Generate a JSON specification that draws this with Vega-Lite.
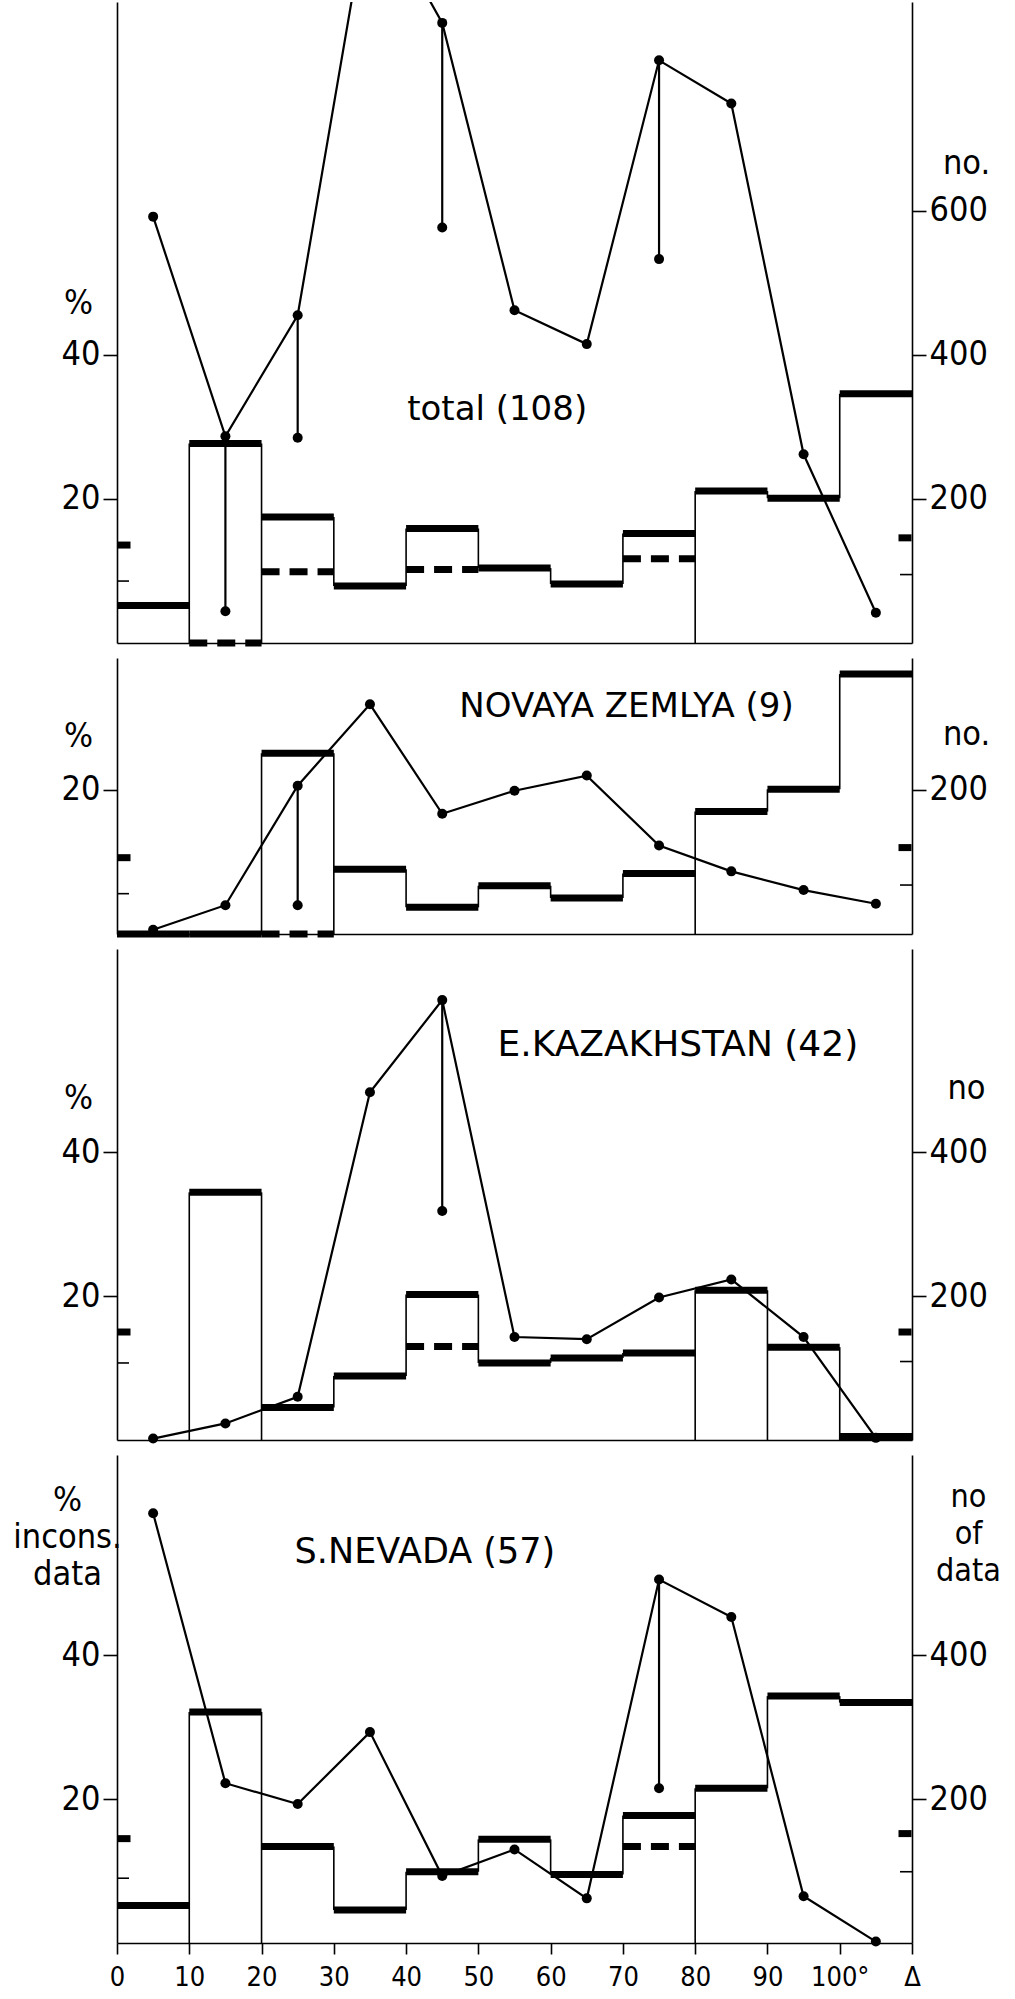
{
  "$schema": "https://vega.github.io/schema/vega-lite/v6.json",
  "padding": {"left": 12, "top": 2, "right": 4, "bottom": 2},
  "spacing": 11,
  "config": {
    "view": {"stroke": null},
    "font": "DejaVu Sans Condensed",
    "axis": {"domainColor": "black", "tickColor": "black", "labelColor": "black", "titleColor": "black", "labelFont": "DejaVu Sans Condensed", "titleFont": "DejaVu Sans Condensed", "grid": false, "domainWidth": 1.6, "tickWidth": 1.6, "titleFontWeight": "normal"}
  },
  "datasets": {
    "hist": [
      {"panel": 1, "kind": "solid", "x": 0, "x2": 10, "pct": 5.2},
      {"panel": 1, "kind": "solid", "x": 10, "x2": 20, "pct": 27.7},
      {"panel": 1, "kind": "solid", "x": 20, "x2": 30, "pct": 17.5},
      {"panel": 1, "kind": "solid", "x": 30, "x2": 40, "pct": 7.9},
      {"panel": 1, "kind": "solid", "x": 40, "x2": 50, "pct": 15.9},
      {"panel": 1, "kind": "solid", "x": 50, "x2": 60, "pct": 10.4},
      {"panel": 1, "kind": "solid", "x": 60, "x2": 70, "pct": 8.2},
      {"panel": 1, "kind": "solid", "x": 70, "x2": 80, "pct": 15.2},
      {"panel": 1, "kind": "solid", "x": 80, "x2": 90, "pct": 21.1},
      {"panel": 1, "kind": "solid", "x": 90, "x2": 100, "pct": 20.1},
      {"panel": 1, "kind": "solid", "x": 100, "x2": 110, "pct": 34.6},
      {"panel": 1, "kind": "dash", "x": 10, "x2": 20, "pct": 0},
      {"panel": 1, "kind": "dash", "x": 20, "x2": 30, "pct": 9.9},
      {"panel": 1, "kind": "dash", "x": 40, "x2": 50, "pct": 10.2},
      {"panel": 1, "kind": "dash", "x": 70, "x2": 80, "pct": 11.7},
      {"panel": 2, "kind": "solid", "x": 0, "x2": 10, "pct": 0},
      {"panel": 2, "kind": "solid", "x": 10, "x2": 20, "pct": 0},
      {"panel": 2, "kind": "solid", "x": 20, "x2": 30, "pct": 25.1},
      {"panel": 2, "kind": "solid", "x": 30, "x2": 40, "pct": 9.0},
      {"panel": 2, "kind": "solid", "x": 40, "x2": 50, "pct": 3.7},
      {"panel": 2, "kind": "solid", "x": 50, "x2": 60, "pct": 6.7},
      {"panel": 2, "kind": "solid", "x": 60, "x2": 70, "pct": 5.0},
      {"panel": 2, "kind": "solid", "x": 70, "x2": 80, "pct": 8.4},
      {"panel": 2, "kind": "solid", "x": 80, "x2": 90, "pct": 17.0},
      {"panel": 2, "kind": "solid", "x": 90, "x2": 100, "pct": 20.1},
      {"panel": 2, "kind": "solid", "x": 100, "x2": 110, "pct": 36.1},
      {"panel": 2, "kind": "dash", "x": 20, "x2": 30, "pct": 0},
      {"panel": 3, "kind": "solid", "x": 10, "x2": 20, "pct": 34.4},
      {"panel": 3, "kind": "solid", "x": 20, "x2": 30, "pct": 4.5},
      {"panel": 3, "kind": "solid", "x": 30, "x2": 40, "pct": 8.9},
      {"panel": 3, "kind": "solid", "x": 40, "x2": 50, "pct": 20.2},
      {"panel": 3, "kind": "solid", "x": 50, "x2": 60, "pct": 10.7},
      {"panel": 3, "kind": "solid", "x": 60, "x2": 70, "pct": 11.4},
      {"panel": 3, "kind": "solid", "x": 70, "x2": 80, "pct": 12.1},
      {"panel": 3, "kind": "solid", "x": 80, "x2": 90, "pct": 20.8},
      {"panel": 3, "kind": "solid", "x": 90, "x2": 100, "pct": 12.9},
      {"panel": 3, "kind": "solid", "x": 100, "x2": 110, "pct": 0.5},
      {"panel": 3, "kind": "dash", "x": 40, "x2": 50, "pct": 13.0},
      {"panel": 4, "kind": "solid", "x": 0, "x2": 10, "pct": 5.2},
      {"panel": 4, "kind": "solid", "x": 10, "x2": 20, "pct": 32.1},
      {"panel": 4, "kind": "solid", "x": 20, "x2": 30, "pct": 13.4},
      {"panel": 4, "kind": "solid", "x": 30, "x2": 40, "pct": 4.6},
      {"panel": 4, "kind": "solid", "x": 40, "x2": 50, "pct": 9.9},
      {"panel": 4, "kind": "solid", "x": 50, "x2": 60, "pct": 14.4},
      {"panel": 4, "kind": "solid", "x": 60, "x2": 70, "pct": 9.5},
      {"panel": 4, "kind": "solid", "x": 70, "x2": 80, "pct": 17.7},
      {"panel": 4, "kind": "solid", "x": 80, "x2": 90, "pct": 21.5},
      {"panel": 4, "kind": "solid", "x": 90, "x2": 100, "pct": 34.3},
      {"panel": 4, "kind": "solid", "x": 100, "x2": 110, "pct": 33.4},
      {"panel": 4, "kind": "dash", "x": 70, "x2": 80, "pct": 13.4}
    ],
    "vert": [
      {"panel": 1, "x": 10, "pct": 0, "pct2": 27.7},
      {"panel": 1, "x": 20, "pct": 0, "pct2": 27.7},
      {"panel": 1, "x": 30, "pct": 7.9, "pct2": 17.5},
      {"panel": 1, "x": 40, "pct": 7.9, "pct2": 15.9},
      {"panel": 1, "x": 50, "pct": 10.4, "pct2": 15.9},
      {"panel": 1, "x": 60, "pct": 8.2, "pct2": 10.4},
      {"panel": 1, "x": 70, "pct": 8.2, "pct2": 15.2},
      {"panel": 1, "x": 80, "pct": 0, "pct2": 21.1},
      {"panel": 1, "x": 90, "pct": 20.1, "pct2": 21.1},
      {"panel": 1, "x": 100, "pct": 20.1, "pct2": 34.6},
      {"panel": 2, "x": 20, "pct": 0, "pct2": 25.1},
      {"panel": 2, "x": 30, "pct": 0, "pct2": 25.1},
      {"panel": 2, "x": 40, "pct": 3.7, "pct2": 9.0},
      {"panel": 2, "x": 50, "pct": 3.7, "pct2": 6.7},
      {"panel": 2, "x": 60, "pct": 5.0, "pct2": 6.7},
      {"panel": 2, "x": 70, "pct": 5.0, "pct2": 8.4},
      {"panel": 2, "x": 80, "pct": 0, "pct2": 17.0},
      {"panel": 2, "x": 90, "pct": 17.0, "pct2": 20.1},
      {"panel": 2, "x": 100, "pct": 20.1, "pct2": 36.1},
      {"panel": 3, "x": 10, "pct": 0, "pct2": 34.4},
      {"panel": 3, "x": 20, "pct": 0, "pct2": 34.4},
      {"panel": 3, "x": 30, "pct": 4.5, "pct2": 8.9},
      {"panel": 3, "x": 40, "pct": 8.9, "pct2": 20.2},
      {"panel": 3, "x": 50, "pct": 10.7, "pct2": 20.2},
      {"panel": 3, "x": 60, "pct": 10.7, "pct2": 11.4},
      {"panel": 3, "x": 70, "pct": 11.4, "pct2": 12.1},
      {"panel": 3, "x": 80, "pct": 0, "pct2": 20.8},
      {"panel": 3, "x": 90, "pct": 0, "pct2": 20.8},
      {"panel": 3, "x": 100, "pct": 0, "pct2": 12.9},
      {"panel": 4, "x": 10, "pct": 0, "pct2": 32.1},
      {"panel": 4, "x": 20, "pct": 0, "pct2": 32.1},
      {"panel": 4, "x": 30, "pct": 4.6, "pct2": 13.4},
      {"panel": 4, "x": 40, "pct": 4.6, "pct2": 9.9},
      {"panel": 4, "x": 50, "pct": 9.9, "pct2": 14.4},
      {"panel": 4, "x": 60, "pct": 9.5, "pct2": 14.4},
      {"panel": 4, "x": 70, "pct": 9.5, "pct2": 17.7},
      {"panel": 4, "x": 80, "pct": 0, "pct2": 21.5},
      {"panel": 4, "x": 90, "pct": 21.5, "pct2": 34.3},
      {"panel": 4, "x": 100, "pct": 33.4, "pct2": 34.3}
    ],
    "pts": [
      {"panel": 1, "x": 5, "no": 592}, {"panel": 1, "x": 15, "no": 287}, {"panel": 1, "x": 25, "no": 455},
      {"panel": 1, "x": 35, "no": 1040}, {"panel": 1, "x": 45, "no": 861}, {"panel": 1, "x": 55, "no": 462},
      {"panel": 1, "x": 65, "no": 415}, {"panel": 1, "x": 75, "no": 809}, {"panel": 1, "x": 85, "no": 749},
      {"panel": 1, "x": 95, "no": 262}, {"panel": 1, "x": 105, "no": 42},
      {"panel": 2, "x": 5, "no": 6}, {"panel": 2, "x": 15, "no": 40}, {"panel": 2, "x": 25, "no": 206},
      {"panel": 2, "x": 35, "no": 319}, {"panel": 2, "x": 45, "no": 167}, {"panel": 2, "x": 55, "no": 199},
      {"panel": 2, "x": 65, "no": 220}, {"panel": 2, "x": 75, "no": 123}, {"panel": 2, "x": 85, "no": 87},
      {"panel": 2, "x": 95, "no": 61}, {"panel": 2, "x": 105, "no": 42},
      {"panel": 3, "x": 5, "no": 2}, {"panel": 3, "x": 15, "no": 23}, {"panel": 3, "x": 25, "no": 60},
      {"panel": 3, "x": 35, "no": 483}, {"panel": 3, "x": 45, "no": 611}, {"panel": 3, "x": 55, "no": 143},
      {"panel": 3, "x": 65, "no": 140}, {"panel": 3, "x": 75, "no": 198}, {"panel": 3, "x": 85, "no": 223},
      {"panel": 3, "x": 95, "no": 143}, {"panel": 3, "x": 105, "no": 3},
      {"panel": 4, "x": 5, "no": 597}, {"panel": 4, "x": 15, "no": 222}, {"panel": 4, "x": 25, "no": 193},
      {"panel": 4, "x": 35, "no": 293}, {"panel": 4, "x": 45, "no": 93}, {"panel": 4, "x": 55, "no": 130},
      {"panel": 4, "x": 65, "no": 62}, {"panel": 4, "x": 75, "no": 505}, {"panel": 4, "x": 85, "no": 453},
      {"panel": 4, "x": 95, "no": 65}, {"panel": 4, "x": 105, "no": 2}
    ],
    "drops": [
      {"panel": 1, "x": 15, "no": 287, "no2": 44},
      {"panel": 1, "x": 25, "no": 455, "no2": 285},
      {"panel": 1, "x": 45, "no": 861, "no2": 577},
      {"panel": 1, "x": 75, "no": 809, "no2": 533},
      {"panel": 2, "x": 25, "no": 206, "no2": 40},
      {"panel": 3, "x": 45, "no": 611, "no2": 318},
      {"panel": 4, "x": 75, "no": 505, "no2": 215}
    ],
    "leftmarks": [
      {"panel": 1, "kind": "thick", "x": 0, "pct": 13.6}, {"panel": 1, "kind": "thin", "x": 0, "pct": 8.6},
      {"panel": 2, "kind": "thick", "x": 0, "pct": 10.6}, {"panel": 2, "kind": "thin", "x": 0, "pct": 5.6},
      {"panel": 3, "kind": "thick", "x": 0, "pct": 15.0}, {"panel": 3, "kind": "thin", "x": 0, "pct": 10.7},
      {"panel": 4, "kind": "thick", "x": 0, "pct": 14.5}, {"panel": 4, "kind": "thin", "x": 0, "pct": 9.0}
    ],
    "rightmarks": [
      {"panel": 1, "kind": "thick", "x": 110, "no": 146}, {"panel": 1, "kind": "thin", "x": 110, "no": 95},
      {"panel": 2, "kind": "thick", "x": 110, "no": 120}, {"panel": 2, "kind": "thin", "x": 110, "no": 68},
      {"panel": 3, "kind": "thick", "x": 110, "no": 150}, {"panel": 3, "kind": "thin", "x": 110, "no": 109},
      {"panel": 4, "kind": "thick", "x": 110, "no": 152}, {"panel": 4, "kind": "thin", "x": 110, "no": 99}
    ],
    "labels": [
      {"panel": 1, "text": "total (108)", "x": 52.6, "pct": 32.4},
      {"panel": 2, "text": "NOVAYA ZEMLYA (9)", "x": 70.5, "pct": 31.5},
      {"panel": 3, "text": "E.KAZAKHSTAN (42)", "x": 77.6, "pct": 54.9},
      {"panel": 4, "text": "S.NEVADA (57)", "x": 42.6, "pct": 54.3}
    ]
  },
  "vconcat": [
    {
      "width": 795, "height": 641,
      "resolve": {"scale": {"y": "independent"}, "axis": {"y": "independent"}},
      "layer": [
        {"layer": [
          {"data": {"name": "hist"}, "transform": [{"filter": "datum.panel == 1 && datum.kind == 'solid'"}],
           "mark": {"type": "rule", "strokeWidth": 7, "color": "black", "strokeCap": "butt"},
           "encoding": {
             "x": {"field": "x", "type": "quantitative", "scale": {"domain": [0, 110], "nice": false, "zero": false}, "axis": {"domain": true, "ticks": false, "labels": false, "title": null}},
             "x2": {"field": "x2"},
             "y": {"field": "pct", "type": "quantitative", "scale": {"domain": [0, 89], "nice": false}, "axis": {"orient": "left", "values": [20, 40], "tickSize": 14, "labelFontSize": 34, "labelPadding": 3, "title": "%", "titleAngle": 0, "titleX": -39, "titleY": 301, "titleAlign": "center", "titleBaseline": "middle", "titleFontSize": 34}}
           }},
          {"data": {"name": "hist"}, "transform": [{"filter": "datum.panel == 1 && datum.kind == 'dash'"}],
           "mark": {"type": "rule", "strokeWidth": 7, "color": "black", "strokeCap": "butt", "strokeDash": [18, 10]},
           "encoding": {
             "x": {"field": "x", "type": "quantitative", "scale": {"domain": [0, 110], "nice": false, "zero": false}},
             "x2": {"field": "x2"},
             "y": {"field": "pct", "type": "quantitative", "scale": {"domain": [0, 89], "nice": false}}
           }},
          {"data": {"name": "vert"}, "transform": [{"filter": "datum.panel == 1"}],
           "mark": {"type": "rule", "strokeWidth": 1.6, "color": "black"},
           "encoding": {
             "x": {"field": "x", "type": "quantitative", "scale": {"domain": [0, 110], "nice": false, "zero": false}},
             "y": {"field": "pct", "type": "quantitative", "scale": {"domain": [0, 89], "nice": false}},
             "y2": {"field": "pct2"}
           }},
          {"data": {"name": "leftmarks"}, "transform": [{"filter": "datum.panel == 1 && datum.kind == 'thick'"}],
           "mark": {"type": "tick", "orient": "horizontal", "size": 13, "thickness": 7, "color": "black", "opacity": 1, "xOffset": 7},
           "encoding": {
             "x": {"field": "x", "type": "quantitative", "scale": {"domain": [0, 110], "nice": false, "zero": false}},
             "y": {"field": "pct", "type": "quantitative", "scale": {"domain": [0, 89], "nice": false}}
           }},
          {"data": {"name": "leftmarks"}, "transform": [{"filter": "datum.panel == 1 && datum.kind == 'thin'"}],
           "mark": {"type": "tick", "orient": "horizontal", "size": 12, "thickness": 1.6, "color": "black", "opacity": 1, "xOffset": 6},
           "encoding": {
             "x": {"field": "x", "type": "quantitative", "scale": {"domain": [0, 110], "nice": false, "zero": false}},
             "y": {"field": "pct", "type": "quantitative", "scale": {"domain": [0, 89], "nice": false}}
           }},
          {"data": {"name": "labels"}, "transform": [{"filter": "datum.panel == 1"}],
           "mark": {"type": "text", "font": "DejaVu Sans", "fontSize": 34, "color": "black", "align": "center", "baseline": "middle"},
           "encoding": {
             "x": {"field": "x", "type": "quantitative", "scale": {"domain": [0, 110], "nice": false, "zero": false}},
             "y": {"field": "pct", "type": "quantitative", "scale": {"domain": [0, 89], "nice": false}},
             "text": {"field": "text"}
           }}
        ]},
        {"layer": [
          {"data": {"name": "pts"}, "transform": [{"filter": "datum.panel == 1"}],
           "mark": {"type": "line", "strokeWidth": 2.2, "color": "black", "clip": true},
           "encoding": {
             "x": {"field": "x", "type": "quantitative", "scale": {"domain": [0, 110], "nice": false, "zero": false}},
             "y": {"field": "no", "type": "quantitative", "scale": {"domain": [0, 890], "nice": false}, "axis": {"orient": "right", "values": [200, 400, 600], "tickSize": 14, "labelFontSize": 34, "labelPadding": 3, "title": "no.", "titleAngle": 0, "titleX": 54, "titleY": 161, "titleAlign": "center", "titleBaseline": "middle", "titleFontSize": 34}}
           }},
          {"data": {"name": "pts"}, "transform": [{"filter": "datum.panel == 1 && datum.no <= 890"}],
           "mark": {"type": "point", "filled": true, "size": 100, "color": "black", "opacity": 1},
           "encoding": {
             "x": {"field": "x", "type": "quantitative", "scale": {"domain": [0, 110], "nice": false, "zero": false}},
             "y": {"field": "no", "type": "quantitative", "scale": {"domain": [0, 890], "nice": false}}
           }},
          {"data": {"name": "drops"}, "transform": [{"filter": "datum.panel == 1"}],
           "mark": {"type": "rule", "strokeWidth": 2.2, "color": "black"},
           "encoding": {
             "x": {"field": "x", "type": "quantitative", "scale": {"domain": [0, 110], "nice": false, "zero": false}},
             "y": {"field": "no", "type": "quantitative", "scale": {"domain": [0, 890], "nice": false}},
             "y2": {"field": "no2"}
           }},
          {"data": {"name": "drops"}, "transform": [{"filter": "datum.panel == 1"}],
           "mark": {"type": "point", "filled": true, "size": 100, "color": "black", "opacity": 1},
           "encoding": {
             "x": {"field": "x", "type": "quantitative", "scale": {"domain": [0, 110], "nice": false, "zero": false}},
             "y": {"field": "no2", "type": "quantitative", "scale": {"domain": [0, 890], "nice": false}}
           }},
          {"data": {"name": "rightmarks"}, "transform": [{"filter": "datum.panel == 1 && datum.kind == 'thick'"}],
           "mark": {"type": "tick", "orient": "horizontal", "size": 13, "thickness": 7, "color": "black", "opacity": 1, "xOffset": -7},
           "encoding": {
             "x": {"field": "x", "type": "quantitative", "scale": {"domain": [0, 110], "nice": false, "zero": false}},
             "y": {"field": "no", "type": "quantitative", "scale": {"domain": [0, 890], "nice": false}}
           }},
          {"data": {"name": "rightmarks"}, "transform": [{"filter": "datum.panel == 1 && datum.kind == 'thin'"}],
           "mark": {"type": "tick", "orient": "horizontal", "size": 12, "thickness": 1.6, "color": "black", "opacity": 1, "xOffset": -6},
           "encoding": {
             "x": {"field": "x", "type": "quantitative", "scale": {"domain": [0, 110], "nice": false, "zero": false}},
             "y": {"field": "no", "type": "quantitative", "scale": {"domain": [0, 890], "nice": false}}
           }}
        ]}
      ]
    },
    {
      "width": 795, "height": 276,
      "resolve": {"scale": {"y": "independent"}, "axis": {"y": "independent"}},
      "layer": [
        {"layer": [
          {"data": {"name": "hist"}, "transform": [{"filter": "datum.panel == 2 && datum.kind == 'solid'"}],
           "mark": {"type": "rule", "strokeWidth": 7, "color": "black", "strokeCap": "butt"},
           "encoding": {
             "x": {"field": "x", "type": "quantitative", "scale": {"domain": [0, 110], "nice": false, "zero": false}, "axis": {"domain": true, "ticks": false, "labels": false, "title": null}},
             "x2": {"field": "x2"},
             "y": {"field": "pct", "type": "quantitative", "scale": {"domain": [0, 38.33], "nice": false}, "axis": {"orient": "left", "values": [20], "tickSize": 14, "labelFontSize": 34, "labelPadding": 3, "title": "%", "titleAngle": 0, "titleX": -39, "titleY": 78, "titleAlign": "center", "titleBaseline": "middle", "titleFontSize": 34}}
           }},
          {"data": {"name": "hist"}, "transform": [{"filter": "datum.panel == 2 && datum.kind == 'dash'"}],
           "mark": {"type": "rule", "strokeWidth": 7, "color": "black", "strokeCap": "butt", "strokeDash": [18, 10]},
           "encoding": {
             "x": {"field": "x", "type": "quantitative", "scale": {"domain": [0, 110], "nice": false, "zero": false}},
             "x2": {"field": "x2"},
             "y": {"field": "pct", "type": "quantitative", "scale": {"domain": [0, 38.33], "nice": false}}
           }},
          {"data": {"name": "vert"}, "transform": [{"filter": "datum.panel == 2"}],
           "mark": {"type": "rule", "strokeWidth": 1.6, "color": "black"},
           "encoding": {
             "x": {"field": "x", "type": "quantitative", "scale": {"domain": [0, 110], "nice": false, "zero": false}},
             "y": {"field": "pct", "type": "quantitative", "scale": {"domain": [0, 38.33], "nice": false}},
             "y2": {"field": "pct2"}
           }},
          {"data": {"name": "leftmarks"}, "transform": [{"filter": "datum.panel == 2 && datum.kind == 'thick'"}],
           "mark": {"type": "tick", "orient": "horizontal", "size": 13, "thickness": 7, "color": "black", "opacity": 1, "xOffset": 7},
           "encoding": {
             "x": {"field": "x", "type": "quantitative", "scale": {"domain": [0, 110], "nice": false, "zero": false}},
             "y": {"field": "pct", "type": "quantitative", "scale": {"domain": [0, 38.33], "nice": false}}
           }},
          {"data": {"name": "leftmarks"}, "transform": [{"filter": "datum.panel == 2 && datum.kind == 'thin'"}],
           "mark": {"type": "tick", "orient": "horizontal", "size": 12, "thickness": 1.6, "color": "black", "opacity": 1, "xOffset": 6},
           "encoding": {
             "x": {"field": "x", "type": "quantitative", "scale": {"domain": [0, 110], "nice": false, "zero": false}},
             "y": {"field": "pct", "type": "quantitative", "scale": {"domain": [0, 38.33], "nice": false}}
           }},
          {"data": {"name": "labels"}, "transform": [{"filter": "datum.panel == 2"}],
           "mark": {"type": "text", "font": "DejaVu Sans", "fontSize": 34, "color": "black", "align": "center", "baseline": "middle"},
           "encoding": {
             "x": {"field": "x", "type": "quantitative", "scale": {"domain": [0, 110], "nice": false, "zero": false}},
             "y": {"field": "pct", "type": "quantitative", "scale": {"domain": [0, 38.33], "nice": false}},
             "text": {"field": "text"}
           }}
        ]},
        {"layer": [
          {"data": {"name": "pts"}, "transform": [{"filter": "datum.panel == 2"}],
           "mark": {"type": "line", "strokeWidth": 2.2, "color": "black", "clip": true},
           "encoding": {
             "x": {"field": "x", "type": "quantitative", "scale": {"domain": [0, 110], "nice": false, "zero": false}},
             "y": {"field": "no", "type": "quantitative", "scale": {"domain": [0, 383.3], "nice": false}, "axis": {"orient": "right", "values": [200], "tickSize": 14, "labelFontSize": 34, "labelPadding": 3, "title": "no.", "titleAngle": 0, "titleX": 54, "titleY": 76, "titleAlign": "center", "titleBaseline": "middle", "titleFontSize": 34}}
           }},
          {"data": {"name": "pts"}, "transform": [{"filter": "datum.panel == 2"}],
           "mark": {"type": "point", "filled": true, "size": 100, "color": "black", "opacity": 1},
           "encoding": {
             "x": {"field": "x", "type": "quantitative", "scale": {"domain": [0, 110], "nice": false, "zero": false}},
             "y": {"field": "no", "type": "quantitative", "scale": {"domain": [0, 383.3], "nice": false}}
           }},
          {"data": {"name": "drops"}, "transform": [{"filter": "datum.panel == 2"}],
           "mark": {"type": "rule", "strokeWidth": 2.2, "color": "black"},
           "encoding": {
             "x": {"field": "x", "type": "quantitative", "scale": {"domain": [0, 110], "nice": false, "zero": false}},
             "y": {"field": "no", "type": "quantitative", "scale": {"domain": [0, 383.3], "nice": false}},
             "y2": {"field": "no2"}
           }},
          {"data": {"name": "drops"}, "transform": [{"filter": "datum.panel == 2"}],
           "mark": {"type": "point", "filled": true, "size": 100, "color": "black", "opacity": 1},
           "encoding": {
             "x": {"field": "x", "type": "quantitative", "scale": {"domain": [0, 110], "nice": false, "zero": false}},
             "y": {"field": "no2", "type": "quantitative", "scale": {"domain": [0, 383.3], "nice": false}}
           }},
          {"data": {"name": "rightmarks"}, "transform": [{"filter": "datum.panel == 2 && datum.kind == 'thick'"}],
           "mark": {"type": "tick", "orient": "horizontal", "size": 13, "thickness": 7, "color": "black", "opacity": 1, "xOffset": -7},
           "encoding": {
             "x": {"field": "x", "type": "quantitative", "scale": {"domain": [0, 110], "nice": false, "zero": false}},
             "y": {"field": "no", "type": "quantitative", "scale": {"domain": [0, 383.3], "nice": false}}
           }},
          {"data": {"name": "rightmarks"}, "transform": [{"filter": "datum.panel == 2 && datum.kind == 'thin'"}],
           "mark": {"type": "tick", "orient": "horizontal", "size": 12, "thickness": 1.6, "color": "black", "opacity": 1, "xOffset": -6},
           "encoding": {
             "x": {"field": "x", "type": "quantitative", "scale": {"domain": [0, 110], "nice": false, "zero": false}},
             "y": {"field": "no", "type": "quantitative", "scale": {"domain": [0, 383.3], "nice": false}}
           }}
        ]}
      ]
    },
    {
      "width": 795, "height": 491,
      "resolve": {"scale": {"y": "independent"}, "axis": {"y": "independent"}},
      "layer": [
        {"layer": [
          {"data": {"name": "hist"}, "transform": [{"filter": "datum.panel == 3 && datum.kind == 'solid'"}],
           "mark": {"type": "rule", "strokeWidth": 7, "color": "black", "strokeCap": "butt"},
           "encoding": {
             "x": {"field": "x", "type": "quantitative", "scale": {"domain": [0, 110], "nice": false, "zero": false}, "axis": {"domain": true, "ticks": false, "labels": false, "title": null}},
             "x2": {"field": "x2"},
             "y": {"field": "pct", "type": "quantitative", "scale": {"domain": [0, 68.2], "nice": false}, "axis": {"orient": "left", "values": [20, 40], "tickSize": 14, "labelFontSize": 34, "labelPadding": 3, "title": "%", "titleAngle": 0, "titleX": -39, "titleY": 149, "titleAlign": "center", "titleBaseline": "middle", "titleFontSize": 34}}
           }},
          {"data": {"name": "hist"}, "transform": [{"filter": "datum.panel == 3 && datum.kind == 'dash'"}],
           "mark": {"type": "rule", "strokeWidth": 7, "color": "black", "strokeCap": "butt", "strokeDash": [18, 10]},
           "encoding": {
             "x": {"field": "x", "type": "quantitative", "scale": {"domain": [0, 110], "nice": false, "zero": false}},
             "x2": {"field": "x2"},
             "y": {"field": "pct", "type": "quantitative", "scale": {"domain": [0, 68.2], "nice": false}}
           }},
          {"data": {"name": "vert"}, "transform": [{"filter": "datum.panel == 3"}],
           "mark": {"type": "rule", "strokeWidth": 1.6, "color": "black"},
           "encoding": {
             "x": {"field": "x", "type": "quantitative", "scale": {"domain": [0, 110], "nice": false, "zero": false}},
             "y": {"field": "pct", "type": "quantitative", "scale": {"domain": [0, 68.2], "nice": false}},
             "y2": {"field": "pct2"}
           }},
          {"data": {"name": "leftmarks"}, "transform": [{"filter": "datum.panel == 3 && datum.kind == 'thick'"}],
           "mark": {"type": "tick", "orient": "horizontal", "size": 13, "thickness": 7, "color": "black", "opacity": 1, "xOffset": 7},
           "encoding": {
             "x": {"field": "x", "type": "quantitative", "scale": {"domain": [0, 110], "nice": false, "zero": false}},
             "y": {"field": "pct", "type": "quantitative", "scale": {"domain": [0, 68.2], "nice": false}}
           }},
          {"data": {"name": "leftmarks"}, "transform": [{"filter": "datum.panel == 3 && datum.kind == 'thin'"}],
           "mark": {"type": "tick", "orient": "horizontal", "size": 12, "thickness": 1.6, "color": "black", "opacity": 1, "xOffset": 6},
           "encoding": {
             "x": {"field": "x", "type": "quantitative", "scale": {"domain": [0, 110], "nice": false, "zero": false}},
             "y": {"field": "pct", "type": "quantitative", "scale": {"domain": [0, 68.2], "nice": false}}
           }},
          {"data": {"name": "labels"}, "transform": [{"filter": "datum.panel == 3"}],
           "mark": {"type": "text", "font": "DejaVu Sans", "fontSize": 36, "color": "black", "align": "center", "baseline": "middle"},
           "encoding": {
             "x": {"field": "x", "type": "quantitative", "scale": {"domain": [0, 110], "nice": false, "zero": false}},
             "y": {"field": "pct", "type": "quantitative", "scale": {"domain": [0, 68.2], "nice": false}},
             "text": {"field": "text"}
           }}
        ]},
        {"layer": [
          {"data": {"name": "pts"}, "transform": [{"filter": "datum.panel == 3"}],
           "mark": {"type": "line", "strokeWidth": 2.2, "color": "black", "clip": true},
           "encoding": {
             "x": {"field": "x", "type": "quantitative", "scale": {"domain": [0, 110], "nice": false, "zero": false}},
             "y": {"field": "no", "type": "quantitative", "scale": {"domain": [0, 682], "nice": false}, "axis": {"orient": "right", "values": [200, 400], "tickSize": 14, "labelFontSize": 34, "labelPadding": 3, "title": "no", "titleAngle": 0, "titleX": 54, "titleY": 139, "titleAlign": "center", "titleBaseline": "middle", "titleFontSize": 34}}
           }},
          {"data": {"name": "pts"}, "transform": [{"filter": "datum.panel == 3"}],
           "mark": {"type": "point", "filled": true, "size": 100, "color": "black", "opacity": 1},
           "encoding": {
             "x": {"field": "x", "type": "quantitative", "scale": {"domain": [0, 110], "nice": false, "zero": false}},
             "y": {"field": "no", "type": "quantitative", "scale": {"domain": [0, 682], "nice": false}}
           }},
          {"data": {"name": "drops"}, "transform": [{"filter": "datum.panel == 3"}],
           "mark": {"type": "rule", "strokeWidth": 2.2, "color": "black"},
           "encoding": {
             "x": {"field": "x", "type": "quantitative", "scale": {"domain": [0, 110], "nice": false, "zero": false}},
             "y": {"field": "no", "type": "quantitative", "scale": {"domain": [0, 682], "nice": false}},
             "y2": {"field": "no2"}
           }},
          {"data": {"name": "drops"}, "transform": [{"filter": "datum.panel == 3"}],
           "mark": {"type": "point", "filled": true, "size": 100, "color": "black", "opacity": 1},
           "encoding": {
             "x": {"field": "x", "type": "quantitative", "scale": {"domain": [0, 110], "nice": false, "zero": false}},
             "y": {"field": "no2", "type": "quantitative", "scale": {"domain": [0, 682], "nice": false}}
           }},
          {"data": {"name": "rightmarks"}, "transform": [{"filter": "datum.panel == 3 && datum.kind == 'thick'"}],
           "mark": {"type": "tick", "orient": "horizontal", "size": 13, "thickness": 7, "color": "black", "opacity": 1, "xOffset": -7},
           "encoding": {
             "x": {"field": "x", "type": "quantitative", "scale": {"domain": [0, 110], "nice": false, "zero": false}},
             "y": {"field": "no", "type": "quantitative", "scale": {"domain": [0, 682], "nice": false}}
           }},
          {"data": {"name": "rightmarks"}, "transform": [{"filter": "datum.panel == 3 && datum.kind == 'thin'"}],
           "mark": {"type": "tick", "orient": "horizontal", "size": 12, "thickness": 1.6, "color": "black", "opacity": 1, "xOffset": -6},
           "encoding": {
             "x": {"field": "x", "type": "quantitative", "scale": {"domain": [0, 110], "nice": false, "zero": false}},
             "y": {"field": "no", "type": "quantitative", "scale": {"domain": [0, 682], "nice": false}}
           }}
        ]}
      ]
    },
    {
      "width": 795, "height": 488,
      "resolve": {"scale": {"y": "independent"}, "axis": {"y": "independent"}},
      "layer": [
        {"layer": [
          {"data": {"name": "hist"}, "transform": [{"filter": "datum.panel == 4 && datum.kind == 'solid'"}],
           "mark": {"type": "rule", "strokeWidth": 7, "color": "black", "strokeCap": "butt"},
           "encoding": {
             "x": {"field": "x", "type": "quantitative", "scale": {"domain": [0, 110], "nice": false, "zero": false}, "axis": {"values": [0, 10, 20, 30, 40, 50, 60, 70, 80, 90, 100, 110], "tickSize": 11, "labelFontSize": 27, "labelPadding": 10, "labelFlush": false, "labelOverlap": false, "labelExpr": "datum.value == 110 ? 'Δ' : datum.value == 100 ? '100°' : datum.label", "title": null}},
             "x2": {"field": "x2"},
             "y": {"field": "pct", "type": "quantitative", "scale": {"domain": [0, 67.8], "nice": false}, "axis": {"orient": "left", "values": [20, 40], "tickSize": 14, "labelFontSize": 34, "labelPadding": 3, "title": ["%", "incons.", "data"], "titleAngle": 0, "titleX": -50, "titleY": 28, "titleAlign": "center", "titleBaseline": "top", "titleLineHeight": 37, "titleFontSize": 34}}
           }},
          {"data": {"name": "hist"}, "transform": [{"filter": "datum.panel == 4 && datum.kind == 'dash'"}],
           "mark": {"type": "rule", "strokeWidth": 7, "color": "black", "strokeCap": "butt", "strokeDash": [18, 10]},
           "encoding": {
             "x": {"field": "x", "type": "quantitative", "scale": {"domain": [0, 110], "nice": false, "zero": false}},
             "x2": {"field": "x2"},
             "y": {"field": "pct", "type": "quantitative", "scale": {"domain": [0, 67.8], "nice": false}}
           }},
          {"data": {"name": "vert"}, "transform": [{"filter": "datum.panel == 4"}],
           "mark": {"type": "rule", "strokeWidth": 1.6, "color": "black"},
           "encoding": {
             "x": {"field": "x", "type": "quantitative", "scale": {"domain": [0, 110], "nice": false, "zero": false}},
             "y": {"field": "pct", "type": "quantitative", "scale": {"domain": [0, 67.8], "nice": false}},
             "y2": {"field": "pct2"}
           }},
          {"data": {"name": "leftmarks"}, "transform": [{"filter": "datum.panel == 4 && datum.kind == 'thick'"}],
           "mark": {"type": "tick", "orient": "horizontal", "size": 13, "thickness": 7, "color": "black", "opacity": 1, "xOffset": 7},
           "encoding": {
             "x": {"field": "x", "type": "quantitative", "scale": {"domain": [0, 110], "nice": false, "zero": false}},
             "y": {"field": "pct", "type": "quantitative", "scale": {"domain": [0, 67.8], "nice": false}}
           }},
          {"data": {"name": "leftmarks"}, "transform": [{"filter": "datum.panel == 4 && datum.kind == 'thin'"}],
           "mark": {"type": "tick", "orient": "horizontal", "size": 12, "thickness": 1.6, "color": "black", "opacity": 1, "xOffset": 6},
           "encoding": {
             "x": {"field": "x", "type": "quantitative", "scale": {"domain": [0, 110], "nice": false, "zero": false}},
             "y": {"field": "pct", "type": "quantitative", "scale": {"domain": [0, 67.8], "nice": false}}
           }},
          {"data": {"name": "labels"}, "transform": [{"filter": "datum.panel == 4"}],
           "mark": {"type": "text", "font": "DejaVu Sans", "fontSize": 35, "color": "black", "align": "center", "baseline": "middle"},
           "encoding": {
             "x": {"field": "x", "type": "quantitative", "scale": {"domain": [0, 110], "nice": false, "zero": false}},
             "y": {"field": "pct", "type": "quantitative", "scale": {"domain": [0, 67.8], "nice": false}},
             "text": {"field": "text"}
           }}
        ]},
        {"layer": [
          {"data": {"name": "pts"}, "transform": [{"filter": "datum.panel == 4"}],
           "mark": {"type": "line", "strokeWidth": 2.2, "color": "black", "clip": true},
           "encoding": {
             "x": {"field": "x", "type": "quantitative", "scale": {"domain": [0, 110], "nice": false, "zero": false}},
             "y": {"field": "no", "type": "quantitative", "scale": {"domain": [0, 678], "nice": false}, "axis": {"orient": "right", "values": [200, 400], "tickSize": 14, "labelFontSize": 34, "labelPadding": 3, "title": ["no", "of", "data"], "titleAngle": 0, "titleX": 56, "titleY": 26, "titleAlign": "center", "titleBaseline": "top", "titleLineHeight": 37, "titleFontSize": 32}}
           }},
          {"data": {"name": "pts"}, "transform": [{"filter": "datum.panel == 4"}],
           "mark": {"type": "point", "filled": true, "size": 100, "color": "black", "opacity": 1},
           "encoding": {
             "x": {"field": "x", "type": "quantitative", "scale": {"domain": [0, 110], "nice": false, "zero": false}},
             "y": {"field": "no", "type": "quantitative", "scale": {"domain": [0, 678], "nice": false}}
           }},
          {"data": {"name": "drops"}, "transform": [{"filter": "datum.panel == 4"}],
           "mark": {"type": "rule", "strokeWidth": 2.2, "color": "black"},
           "encoding": {
             "x": {"field": "x", "type": "quantitative", "scale": {"domain": [0, 110], "nice": false, "zero": false}},
             "y": {"field": "no", "type": "quantitative", "scale": {"domain": [0, 678], "nice": false}},
             "y2": {"field": "no2"}
           }},
          {"data": {"name": "drops"}, "transform": [{"filter": "datum.panel == 4"}],
           "mark": {"type": "point", "filled": true, "size": 100, "color": "black", "opacity": 1},
           "encoding": {
             "x": {"field": "x", "type": "quantitative", "scale": {"domain": [0, 110], "nice": false, "zero": false}},
             "y": {"field": "no2", "type": "quantitative", "scale": {"domain": [0, 678], "nice": false}}
           }},
          {"data": {"name": "rightmarks"}, "transform": [{"filter": "datum.panel == 4 && datum.kind == 'thick'"}],
           "mark": {"type": "tick", "orient": "horizontal", "size": 13, "thickness": 7, "color": "black", "opacity": 1, "xOffset": -7},
           "encoding": {
             "x": {"field": "x", "type": "quantitative", "scale": {"domain": [0, 110], "nice": false, "zero": false}},
             "y": {"field": "no", "type": "quantitative", "scale": {"domain": [0, 678], "nice": false}}
           }},
          {"data": {"name": "rightmarks"}, "transform": [{"filter": "datum.panel == 4 && datum.kind == 'thin'"}],
           "mark": {"type": "tick", "orient": "horizontal", "size": 12, "thickness": 1.6, "color": "black", "opacity": 1, "xOffset": -6},
           "encoding": {
             "x": {"field": "x", "type": "quantitative", "scale": {"domain": [0, 110], "nice": false, "zero": false}},
             "y": {"field": "no", "type": "quantitative", "scale": {"domain": [0, 678], "nice": false}}
           }}
        ]}
      ]
    }
  ]
}
